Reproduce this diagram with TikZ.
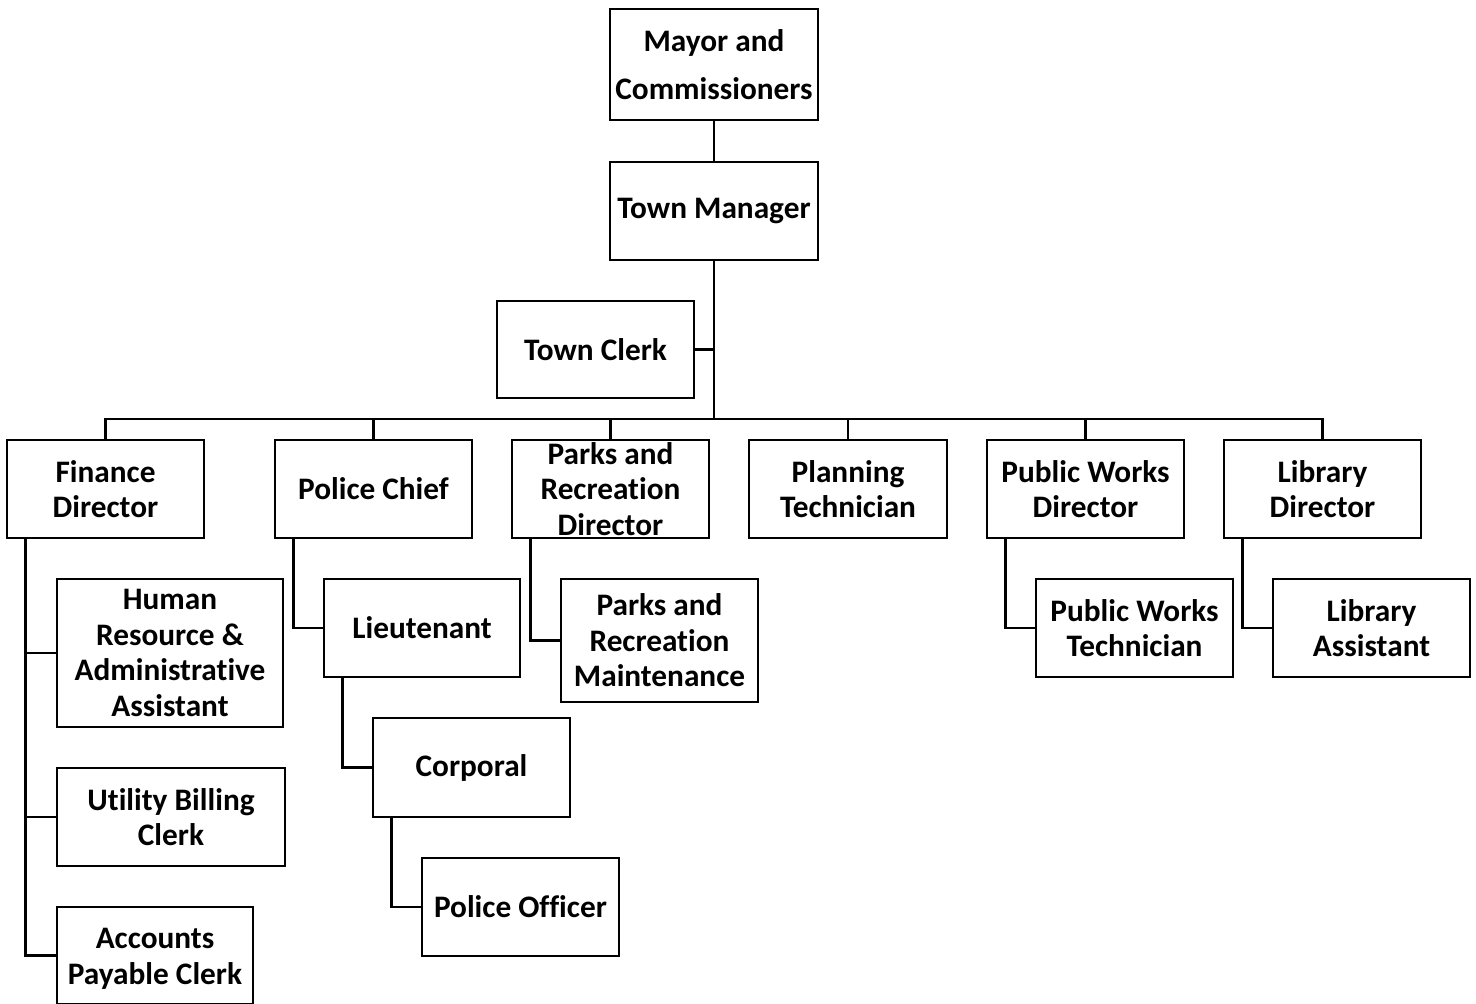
\documentclass[tikz,border=0pt]{standalone}
\usepackage{fontspec}
\setmainfont[Ligatures={NoCommon,NoContextual,NoRare},Contextuals=NoAlternate]{Carlito}
\begin{document}
\begin{tikzpicture}[x=1pt,y=-1pt,
  box/.style={draw=black, line width=2.6pt, fill=white, inner sep=0pt, align=center,
    font=\bfseries\fontsize{31.3}{35.5}\selectfont, text=black},
  link/.style={draw=black, line width=2.5pt},
  buslink/.style={draw=black, line width=2.9pt}]
\useasboundingbox[fill=white] (0,0) rectangle (1476,1004);
\begin{scope}
\clip (0,0) rectangle (1476,1004);
% top
\node[box, minimum width=208pt, minimum height=111pt] (mayor) at (714,64.5) {Mayor and\\[12.5pt]Commissioners};
\node[box, minimum width=208pt, minimum height=98pt] (tm) at (714,211) {Town Manager};
\node[box, minimum width=197pt, minimum height=97pt] (clerk) at (595.5,349.5) {Town Clerk};
\coordinate (bus) at (714,419);
% level 2
\node[box, minimum width=197pt, minimum height=98pt] (fin) at (105.5,489) {Finance\\Director};
\node[box, minimum width=197pt, minimum height=98pt] (pc) at (373.5,489) {Police Chief};
\node[box, minimum width=197pt, minimum height=98pt] (prd) at (610.5,489) {Parks and\\Recreation\\Director};
\node[box, minimum width=198pt, minimum height=98pt] (plan) at (848,489) {Planning\\Technician};
\node[box, minimum width=197pt, minimum height=98pt] (pwd) at (1085.5,489) {Public Works\\Director};
\node[box, minimum width=197pt, minimum height=98pt] (lib) at (1322.5,489) {Library\\Director};
% level 3
\node[box, minimum width=226pt, minimum height=148pt] (hr) at (170,653) {Human\\Resource \&\\Administrative\\Assistant};
\node[box, minimum width=228pt, minimum height=98pt] (ub) at (171,817) {Utility Billing\\Clerk};
\node[box, minimum width=196pt, minimum height=97pt] (ap) at (155,955.5) {\rule{0pt}{27pt}Accounts\\Payable Clerk};
\node[box, minimum width=196pt, minimum height=98pt] (lt) at (422,628) {Lieutenant};
\node[box, minimum width=197pt, minimum height=99pt] (cp) at (471.5,767.5) {Corporal};
\node[box, minimum width=197pt, minimum height=98pt] (po) at (520.5,907) {Police Officer};
\node[box, minimum width=197pt, minimum height=123pt] (prm) at (659.5,640.5) {Parks and\\Recreation\\Maintenance};
\node[box, minimum width=197pt, minimum height=98pt] (pwt) at (1134.5,628) {Public Works\\Technician};
\node[box, minimum width=197pt, minimum height=98pt] (la) at (1371.5,628) {Library\\Assistant};
\end{scope}
% connectors
\draw[link] (mayor.south) -- (tm.north);
\draw[buslink] (tm.south) -- (bus);
\draw[link] (clerk.east) -- (clerk.east -| bus);
\draw[buslink] (fin.north) |- (bus) -| (lib.north);
\draw[link] (pc.north) -- (pc.north |- bus);
\draw[link] (prd.north) -- (prd.north |- bus);
\draw[link] (plan.north) -- (plan.north |- bus);
\draw[link] (pwd.north) -- (pwd.north |- bus);
\draw[link] ([xshift=20pt]fin.south west) |- (hr.west);
\draw[link] ([xshift=20pt]fin.south west) |- (ub.west);
\draw[link] ([xshift=20pt]fin.south west) |- (ap.west);
\draw[link] ([xshift=20pt]pc.south west) |- (lt.west);
\draw[link] ([xshift=20pt]lt.south west) |- (cp.west);
\draw[link] ([xshift=20pt]cp.south west) |- (po.west);
\draw[link] ([xshift=20pt]prd.south west) |- (prm.west);
\draw[link] ([xshift=20pt]pwd.south west) |- (pwt.west);
\draw[link] ([xshift=20pt]lib.south west) |- (la.west);
\end{tikzpicture}
\end{document}
